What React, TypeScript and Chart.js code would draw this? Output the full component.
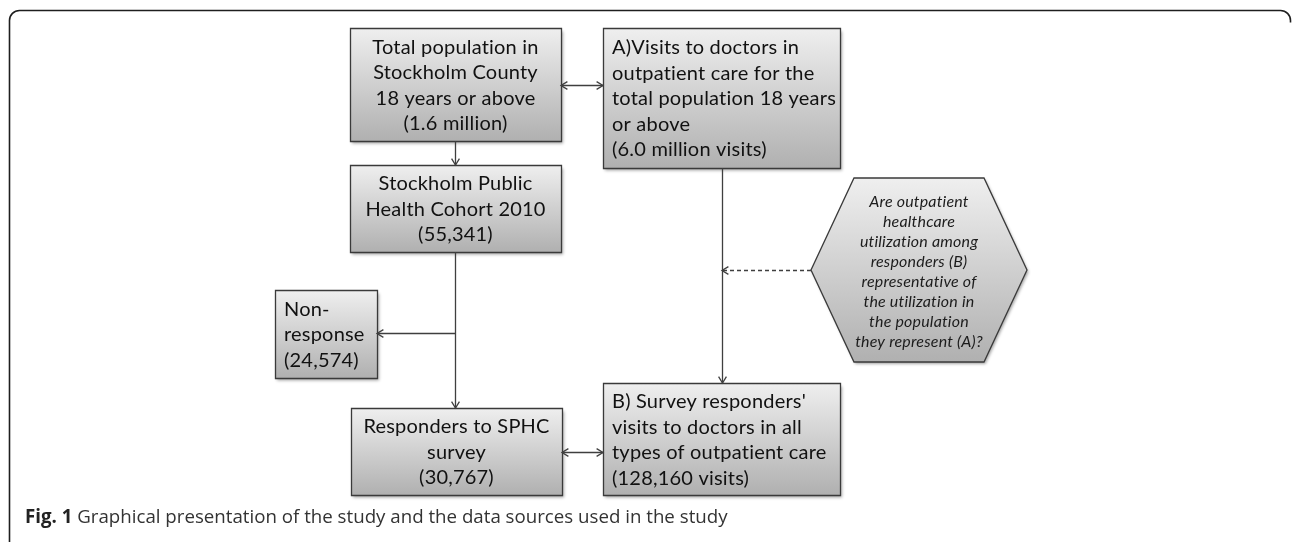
import { useEffect, useRef } from "react";
import { Chart, registerables } from "chart.js";

Chart.register(...registerables);

const W = 1292;
const H = 542;

// ---- node contents ----
const nodeTexts: string[][] = [
  ["Total population in", "Stockholm County", "18 years or above", "(1.6 million)"],
  ["A)Visits to doctors in", "outpatient care for the", "total population 18 years", "or above", "(6.0 million visits)"],
  ["Stockholm Public", "Health Cohort 2010", "(55,341)"],
  ["Non-", "response", "(24,574)"],
  ["Responders to SPHC", "survey", "(30,767)"],
  ["B) Survey responders'", "visits to doctors in all", "types of outpatient care", "(128,160 visits)"],
  [
    "Are outpatient",
    "healthcare",
    "utilization among",
    "responders (B)",
    "representative of",
    "the utilization in",
    "the population",
    "they represent (A)?",
  ],
];
const nodeShape = ["rect", "rect", "rect", "rect", "rect", "rect", "hex"];
const nodeAlign = ["center", "left", "center", "left", "center", "left", "center"];

// ---- node geometry (diagram units) ----
const nodeLeft = [350, 603, 350, 275, 351, 603, 811];
const nodeRight = [561, 840, 561, 377, 562, 840, 1027];
const nodeTop = [28, 28, 165, 290, 408, 383, 178];
const nodeBottom = [141, 168, 252, 378, 495, 495, 362];

// ---- edges ----
const edgeX1 = [561, 455, 455, 455, 722, 811, 562];
const edgeY1 = [85, 141, 252, 333, 168, 270, 452];
const edgeX2 = [603, 455, 455, 377, 722, 722, 603];
const edgeY2 = [85, 165, 408, 333, 383, 270, 452];
const edgeHeadStart = [true, false, false, false, false, false, true];
const edgeHeadEnd = [true, true, true, true, true, true, true];
const edgeDashed = [false, false, false, false, false, true, false];

const captionBold = "Fig. 1";
const captionRest = " Graphical presentation of the study and the data sources used in the study";

const LINE = "#3f3f3f";

function fitSize(ctx: CanvasRenderingContext2D, text: string, fontTpl: (s: number) => string, target: number) {
  ctx.font = fontTpl(20);
  const w = ctx.measureText(text).width;
  return (20 * target) / w;
}

const flowPlugin = {
  id: "flow",
  beforeDatasetsDraw(chart: any) {
    const ctx: CanvasRenderingContext2D = chart.ctx;
    const xs = chart.scales.x;
    const ys = chart.scales.y;
    const px = (v: number) => xs.getPixelForValue(v);
    const py = (v: number) => ys.getPixelForValue(v);

    ctx.save();
    ctx.fillStyle = "#ffffff";
    ctx.fillRect(0, 0, chart.width, chart.height);

    // outer frame
    const fl = px(9.5), ft = py(10.5), fr = px(1290.5), r = 10;
    ctx.strokeStyle = "#1e1e1e";
    ctx.lineWidth = 1.6;
    ctx.beginPath();
    ctx.moveTo(fl, py(542));
    ctx.lineTo(fl, ft + r);
    ctx.arcTo(fl, ft, fl + r, ft, r);
    ctx.lineTo(fr - r, ft);
    ctx.arcTo(fr, ft, fr, ft + r, r);
    ctx.lineTo(fr, ft + r + 2);
    ctx.stroke();

    (ctx as any).letterSpacing = "0.2px";
    const boxFont = (s: number) => `${s}px Lato, "Open Sans", sans-serif`;
    const hexFont = (s: number) => `italic ${s}px Lato, "Open Sans", sans-serif`;
    const boxFs = fitSize(ctx, "total population 18 years", boxFont, 224);
    const hexFs = fitSize(ctx, "they represent (A)?", hexFont, 127);

    for (let i = 0; i < nodeTexts.length; i++) {
      const x0 = px(nodeLeft[i]);
      const x1 = px(nodeRight[i]);
      const y0 = py(nodeTop[i]);
      const y1 = py(nodeBottom[i]);
      const grad = ctx.createLinearGradient(0, y0, 0, y1);
      grad.addColorStop(0, "#efefef");
      grad.addColorStop(1, "#b0b0b0");

      ctx.beginPath();
      if (nodeShape[i] === "hex") {
        const cy = (y0 + y1) / 2;
        const s = 43;
        ctx.moveTo(x0, cy);
        ctx.lineTo(x0 + s, y0);
        ctx.lineTo(x1 - s, y0);
        ctx.lineTo(x1, cy);
        ctx.lineTo(x1 - s, y1);
        ctx.lineTo(x0 + s, y1);
        ctx.closePath();
      } else {
        ctx.rect(x0 + 0.5, y0 + 0.5, x1 - x0, y1 - y0);
      }
      ctx.save();
      ctx.shadowColor = "rgba(0,0,0,0.35)";
      ctx.shadowBlur = 3;
      ctx.shadowOffsetX = 1.5;
      ctx.shadowOffsetY = 2;
      ctx.fillStyle = grad;
      ctx.fill();
      ctx.restore();
      ctx.strokeStyle = "#3a3a3a";
      ctx.lineWidth = 1.3;
      ctx.stroke();

      const lines = nodeTexts[i];
      const isHex = nodeShape[i] === "hex";
      const lh = isHex ? 20 : 25.5;
      ctx.font = isHex ? hexFont(hexFs) : boxFont(boxFs);
      ctx.fillStyle = isHex ? "#1c1c1c" : "#111111";
      ctx.textBaseline = "middle";
      const cy = (y0 + y1) / 2 + (isHex ? 2 : 1);
      const startY = cy - ((lines.length - 1) * lh) / 2;
      lines.forEach((t, k) => {
        if (nodeAlign[i] === "left") {
          ctx.textAlign = "left";
          ctx.fillText(t, x0 + 9, startY + k * lh);
        } else {
          ctx.textAlign = "center";
          ctx.fillText(t, (x0 + x1) / 2, startY + k * lh);
        }
      });
    }
    ctx.restore();
  },
  afterDatasetsDraw(chart: any) {
    const ctx: CanvasRenderingContext2D = chart.ctx;
    const xs = chart.scales.x;
    const ys = chart.scales.y;
    const px = (v: number) => xs.getPixelForValue(v);
    const py = (v: number) => ys.getPixelForValue(v);
    ctx.save();
    ctx.strokeStyle = LINE;
    ctx.lineWidth = 1.3;
    const head = (tx: number, ty: number, fx: number, fy: number) => {
      const a = Math.atan2(ty - fy, tx - fx);
      const L = 7.5;
      const sp = 0.55;
      ctx.beginPath();
      ctx.moveTo(tx - L * Math.cos(a - sp), ty - L * Math.sin(a - sp));
      ctx.lineTo(tx, ty);
      ctx.lineTo(tx - L * Math.cos(a + sp), ty - L * Math.sin(a + sp));
      ctx.stroke();
    };
    for (let i = 0; i < edgeX1.length; i++) {
      const ax = px(edgeX1[i]) + (edgeX1[i] === edgeX2[i] ? 0.5 : 0);
      const ay = py(edgeY1[i]) + (edgeY1[i] === edgeY2[i] ? 0.5 : 0);
      const bx = px(edgeX2[i]) + (edgeX1[i] === edgeX2[i] ? 0.5 : 0);
      const by = py(edgeY2[i]) + (edgeY1[i] === edgeY2[i] ? 0.5 : 0);
      if (edgeHeadEnd[i]) head(bx, by, ax, ay);
      if (edgeHeadStart[i]) head(ax, ay, bx, by);
    }

    // caption
    const capFont = (w: string, s: number) => `${w} ${s}px "Open Sans", sans-serif`;
    ctx.font = capFont("bold", 16);
    const wb = ctx.measureText(captionBold).width;
    ctx.font = capFont("normal", 16);
    const wr = ctx.measureText(captionRest).width;
    const fs = (16 * 703) / (wb + wr);
    ctx.textBaseline = "alphabetic";
    ctx.textAlign = "left";
    const cx = px(25);
    const cy = py(523);
    ctx.font = capFont("bold", fs);
    ctx.fillStyle = "#222222";
    ctx.fillText(captionBold, cx, cy);
    const wb2 = ctx.measureText(captionBold).width;
    ctx.font = capFont("normal", fs);
    ctx.fillStyle = "#333333";
    ctx.fillText(captionRest, cx + wb2, cy);
    ctx.restore();
  },
};

export default function App() {
  const ref = useRef<HTMLCanvasElement | null>(null);
  useEffect(() => {
    document.body.style.margin = "0";
    if (!ref.current) return;
    const datasets = edgeX1.map((_, i) => {
      const horiz = edgeY1[i] === edgeY2[i];
      const vert = edgeX1[i] === edgeX2[i];
      return {
        label: `edge${i}`,
        data: [
          { x: edgeX1[i] + (vert ? 0.5 : 0), y: edgeY1[i] + (horiz ? 0.5 : 0) },
          { x: edgeX2[i] + (vert ? 0.5 : 0), y: edgeY2[i] + (horiz ? 0.5 : 0) },
        ],
        showLine: true,
        borderColor: LINE,
        backgroundColor: LINE,
        borderWidth: 1.3,
        borderDash: edgeDashed[i] ? [4, 3] : [],
        pointRadius: 0,
        pointHoverRadius: 0,
        fill: false,
        tension: 0,
        clip: false as any,
      };
    });
    const chart = new Chart(ref.current, {
      type: "scatter",
      data: { datasets },
      options: {
        animation: false,
        responsive: false,
        maintainAspectRatio: false,
        devicePixelRatio: 1,
        layout: { padding: 0 },
        events: [],
        plugins: {
          legend: { display: false },
          tooltip: { enabled: false },
          title: { display: false },
        },
        scales: {
          x: { type: "linear", min: 0, max: W, display: false },
          y: { type: "linear", min: 0, max: H, reverse: true, display: false },
        },
      },
      plugins: [flowPlugin],
    });
    return () => chart.destroy();
  }, []);
  return (
    <div style={{ width: W, height: H, position: "relative", background: "#fff" }}>
      <canvas ref={ref} width={W} height={H} style={{ display: "block" }} />
    </div>
  );
}
